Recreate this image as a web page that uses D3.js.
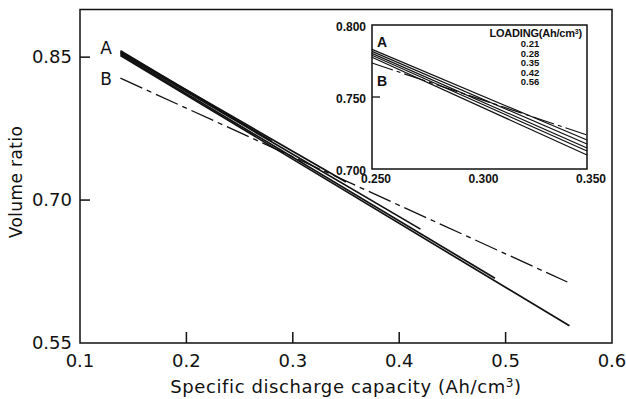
<!DOCTYPE html>
<html>
<head>
<meta charset="utf-8">
<script src="https://cdn.jsdelivr.net/npm/d3@7"></script>
<style>
  body { margin: 0; background: #fff; }
  text { font-family: "DejaVu Sans", sans-serif; fill: #111; }
  .inset text { font-family: "Liberation Sans", sans-serif; font-weight: bold; }
</style>
</head>
<body>
<svg id="svg1" width="626" height="399"></svg>
<script>
// main chart values
var xTicks = [0.1, 0.2, 0.3, 0.4, 0.5, 0.6];
var yTicks = [0.55, 0.70, 0.85];
var xTickLabels = ["0.1", "0.2", "0.3", "0.4", "0.5", "0.6"];
var yTickLabels = ["0.55", "0.70", "0.85"];

// curve A: five lines, all start at the same capacity, end at different ones
var aStartX = [0.138, 0.138, 0.138, 0.138, 0.138];
var aStartY = [0.8568, 0.8555, 0.8543, 0.8531, 0.8518];
var aEndX = [0.28, 0.35, 0.42, 0.49, 0.56];
var aEndY = [0.762, 0.719, 0.6695, 0.618, 0.568];

// curve B (dash-dot)
var bX = [0.138, 0.558];
var bY = [0.828, 0.614];

// inset values
var insetXTicks = [0.250, 0.300, 0.350];
var insetYTicks = [0.700, 0.750, 0.800];
var insetX = [0.250, 0.350];
var insetA0 = [0.7831, 0.7817, 0.7803, 0.7790, 0.7776];
var insetA1 = [0.7201, 0.7174, 0.7146, 0.7125, 0.7097];
var insetB = [0.7736, 0.7236];
var loadings = ["0.21", "0.28", "0.35", "0.42", "0.56"];

var svg = d3.select("#svg1");

var x = d3.scaleLinear().domain([0.1, 0.6]).range([80, 612]);
var y = d3.scaleLinear().domain([0.55, 0.9]).range([343, 9.5]);

var line = d3.line()
    .x(function (d) { return x(d[0]); })
    .y(function (d) { return y(d[1]); });

// frame
svg.append("rect")
    .attr("x", x(0.1)).attr("y", y(0.9))
    .attr("width", x(0.6) - x(0.1)).attr("height", y(0.55) - y(0.9))
    .attr("fill", "none").attr("stroke", "#111").attr("stroke-width", 1.5);

// inward ticks
svg.append("g").selectAll("line").data(xTicks.slice(1, 5)).enter().append("line")
    .attr("x1", function (d) { return x(d); }).attr("x2", function (d) { return x(d); })
    .attr("y1", y(0.55)).attr("y2", y(0.55) - 11)
    .attr("stroke", "#111").attr("stroke-width", 1.5);

svg.append("g").selectAll("line").data(yTicks.slice(1)).enter().append("line")
    .attr("x1", x(0.1)).attr("x2", x(0.1) + 10)
    .attr("y1", function (d) { return y(d); }).attr("y2", function (d) { return y(d); })
    .attr("stroke", "#111").attr("stroke-width", 1.5);

// tick labels
svg.append("g").selectAll("text").data(xTicks).enter().append("text")
    .attr("x", function (d) { return x(d); })
    .attr("y", 367)
    .attr("text-anchor", "middle")
    .style("font-size", "18px")
    .text(function (d, i) { return xTickLabels[i]; });

svg.append("g").selectAll("text").data(yTicks).enter().append("text")
    .attr("x", 72)
    .attr("y", function (d) { return y(d) + 6; })
    .attr("text-anchor", "end")
    .style("font-size", "18px")
    .text(function (d, i) { return yTickLabels[i]; });

// axis titles
var xt = svg.append("text")
    .attr("x", 346).attr("y", 393)
    .attr("text-anchor", "middle")
    .style("font-size", "18px")
    .style("letter-spacing", "0.6px");
xt.append("tspan").text("Specific discharge capacity (Ah/cm");
xt.append("tspan").attr("dy", -6).style("font-size", "12px").text("3");
xt.append("tspan").attr("dy", 6).text(")");

svg.append("text")
    .attr("transform", "translate(22,182) rotate(-90)")
    .attr("text-anchor", "middle")
    .style("font-size", "17px")
    .style("letter-spacing", "0.4px")
    .text("Volume ratio");

// curve A lines
var aLines = aEndX.map(function (d, i) {
    return [[aStartX[i], aStartY[i]], [d, aEndY[i]]];
});
svg.append("g").selectAll("path").data(aLines).enter().append("path")
    .attr("d", line)
    .attr("fill", "none").attr("stroke", "#111").attr("stroke-width", 1.7);

// curve B
svg.append("path")
    .attr("d", line(bX.map(function (d, i) { return [d, bY[i]]; })))
    .attr("fill", "none").attr("stroke", "#111").attr("stroke-width", 1.3)
    .attr("stroke-dasharray", "24,5,5,5");

svg.append("text").attr("x", 106).attr("y", 54).attr("text-anchor", "middle")
    .style("font-size", "17px").text("A");
svg.append("text").attr("x", 106).attr("y", 85).attr("text-anchor", "middle")
    .style("font-size", "17px").text("B");

// ---- inset ----
var ix = d3.scaleLinear().domain([0.25, 0.35]).range([372, 587]);
var iy = d3.scaleLinear().domain([0.70, 0.80]).range([169, 25]);
var iline = d3.line()
    .x(function (d) { return ix(d[0]); })
    .y(function (d) { return iy(d[1]); });

var inset = svg.append("g").attr("class", "inset");

inset.append("rect")
    .attr("x", ix(0.25)).attr("y", iy(0.80))
    .attr("width", ix(0.35) - ix(0.25)).attr("height", iy(0.70) - iy(0.80))
    .attr("fill", "#fff").attr("stroke", "#111").attr("stroke-width", 1.5);

inset.append("line")
    .attr("x1", ix(0.25)).attr("x2", ix(0.25) + 8)
    .attr("y1", iy(0.75)).attr("y2", iy(0.75))
    .attr("stroke", "#111").attr("stroke-width", 1.3);

inset.append("g").selectAll("text").data(insetYTicks).enter().append("text")
    .attr("x", 366)
    .attr("y", function (d) { return iy(d) + 6; })
    .attr("text-anchor", "end")
    .style("font-size", "12px")
    .text(function (d) { return d.toFixed(3); });

inset.append("g").selectAll("text").data(insetXTicks).enter().append("text")
    .attr("x", function (d) { return ix(d) + 4; })
    .attr("y", 183)
    .attr("text-anchor", "middle")
    .style("font-size", "12px")
    .text(function (d) { return d.toFixed(3); });

var iLines = insetA0.map(function (d, i) {
    return [[insetX[0], d], [insetX[1], insetA1[i]]];
});
inset.append("g").selectAll("path").data(iLines).enter().append("path")
    .attr("d", iline)
    .attr("fill", "none").attr("stroke", "#111").attr("stroke-width", 1.2);

inset.append("path")
    .attr("d", iline(insetX.map(function (d, i) { return [d, insetB[i]]; })))
    .attr("fill", "none").attr("stroke", "#111").attr("stroke-width", 1.2)
    .attr("stroke-dasharray", "22,4,4,4");

inset.append("text").attr("x", 382).attr("y", 47).attr("text-anchor", "middle")
    .style("font-size", "14px").text("A");
inset.append("text").attr("x", 382).attr("y", 86).attr("text-anchor", "middle")
    .style("font-size", "14px").text("B");

var lt = inset.append("text").attr("x", 582).attr("y", 37).attr("text-anchor", "end")
    .style("font-size", "11px").style("letter-spacing", "-0.2px");
lt.append("tspan").text("LOADING(Ah/cm");
lt.append("tspan").attr("dy", -3).style("font-size", "7px").text("3");
lt.append("tspan").attr("dy", 3).text(")");

inset.append("g").selectAll("text").data(loadings).enter().append("text")
    .attr("x", 530)
    .attr("y", function (d, i) { return 47 + i * 9.5; })
    .attr("text-anchor", "middle")
    .style("font-size", "9.5px")
    .text(function (d) { return d; });
</script>
</body>
</html>
